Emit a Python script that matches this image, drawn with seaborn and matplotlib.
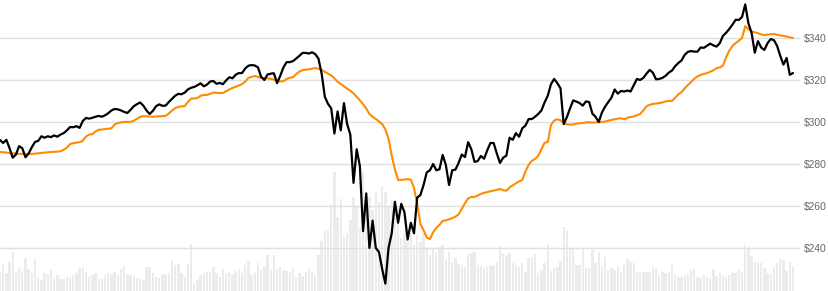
import numpy as np
import pandas as pd
import matplotlib
matplotlib.use("Agg")
import matplotlib.pyplot as plt
import seaborn as sns
from matplotlib.ticker import FuncFormatter

price = [
    291.4, 290.0, 291.5, 287.5, 283.0, 284.5, 288.5, 287.5, 283.2, 285.0,
    288.0, 290.5, 291.0, 293.2, 292.5, 293.2, 292.8, 293.6, 293.0, 294.0,
    294.7, 296.0, 297.6, 297.5, 298.0, 297.2, 300.5, 301.9, 301.6, 302.0,
    302.5, 302.9, 302.5, 303.2, 304.2, 305.5, 306.2, 306.0, 305.5, 304.8,
    304.3, 305.8, 307.5, 308.5, 309.3, 307.8, 305.5, 303.8, 305.3, 307.5,
    308.4, 307.7, 307.8, 309.5, 311.0, 312.5, 313.4, 313.2, 314.0, 315.5,
    316.3, 316.7, 317.5, 318.4, 317.0, 317.8, 319.3, 319.5, 318.2, 318.6,
    318.0, 319.8, 321.3, 320.8, 322.5, 323.3, 323.3, 325.5, 326.8, 327.1,
    326.9, 326.0, 321.5, 320.0, 322.6, 323.0, 323.2, 318.5, 322.0, 326.0,
    328.5, 328.5, 329.0, 330.2, 331.5, 332.9, 332.9, 332.6, 333.2, 332.3,
    330.2, 323.0, 312.0, 308.6, 306.5, 294.5, 305.0, 296.0, 309.0, 299.0,
    294.0, 271.0, 287.0, 279.0, 248.0, 266.0, 240.0, 253.0, 240.0, 238.0,
    230.0, 223.0, 240.0, 247.0, 262.0, 252.0, 261.0, 257.0, 244.0, 252.0,
    247.0, 264.0, 265.2, 270.0, 276.0, 277.0, 280.0, 277.0, 277.5, 284.3,
    279.5, 270.0, 277.0, 277.3, 280.5, 284.5, 283.3, 290.4, 287.0, 281.0,
    281.4, 283.8, 282.5, 286.5, 290.0, 290.0, 285.0, 280.5, 283.0, 284.0,
    292.5, 291.5, 294.7, 293.0, 297.0, 298.3, 301.4, 301.4, 302.5, 303.8,
    305.5, 309.3, 312.5, 318.0, 320.5, 318.5, 316.0, 299.0, 302.3, 306.5,
    310.3, 309.7, 309.0, 307.8, 309.8, 309.5, 304.0, 302.5, 300.0, 304.5,
    307.3, 309.5, 311.6, 315.5, 313.5, 314.8, 314.5, 315.0, 314.5, 317.5,
    320.5, 320.0, 321.0, 323.0, 324.8, 323.5, 320.3, 320.5, 321.0, 322.0,
    323.5, 324.5, 326.6, 328.1, 329.3, 332.0, 333.4, 333.8, 333.5, 333.5,
    335.5, 335.3, 336.3, 337.3, 336.5, 335.9, 337.5, 341.0, 342.5, 344.3,
    346.4, 348.7, 348.6, 350.0, 356.0, 347.0, 342.5, 333.0, 338.5, 335.5,
    334.3, 337.5, 339.5, 339.0, 336.3, 331.5, 327.3, 330.5, 322.5, 323.3,
]

moving_avg = [
    285.7, 285.6, 285.4, 285.2, 285.1, 285.0, 284.8, 284.8, 284.8, 284.8,
    284.8, 284.9, 285.1, 285.3, 285.4, 285.6, 285.7, 285.8, 285.9, 286.0,
    286.8, 287.8, 289.5, 289.9, 290.2, 290.4, 291.0, 293.1, 294.0, 294.2,
    295.5, 296.3, 296.4, 296.6, 296.8, 297.0, 298.8, 299.5, 299.8, 300.0,
    300.0, 300.1, 300.6, 301.5, 302.4, 302.8, 302.7, 302.6, 302.5, 302.6,
    302.7, 302.8, 302.9, 304.0, 305.4, 306.6, 307.2, 307.4, 307.6, 309.5,
    311.1, 311.2, 311.4, 312.5, 312.9, 312.9, 313.4, 314.0, 313.9, 313.8,
    313.8, 314.7, 315.5, 316.2, 316.8, 317.4, 318.0, 319.2, 321.0, 321.5,
    321.9, 321.5, 321.0, 320.9, 320.8, 320.5, 320.2, 319.5, 319.4, 319.4,
    320.5, 321.1, 321.3, 322.8, 324.0, 324.7, 324.9, 325.1, 325.4, 325.7,
    325.4, 324.8, 323.9, 323.0, 322.2, 320.8, 319.2, 318.1, 317.0, 315.9,
    314.9, 313.6, 312.0, 310.3, 308.5, 306.4, 303.8, 302.5, 301.4, 300.3,
    299.0, 296.5, 292.0, 284.0, 277.5, 272.4, 272.4, 272.6, 272.8, 272.5,
    268.6, 261.0, 251.5, 248.4, 245.0, 244.2, 247.5, 249.5, 251.0, 252.9,
    253.2, 253.6, 254.2, 254.9, 256.0, 258.7, 261.3, 263.6, 264.3, 264.3,
    265.0, 265.7, 266.3, 266.6, 267.0, 267.3, 267.7, 268.1, 267.5, 267.3,
    268.8, 269.8, 270.8, 271.7, 272.4, 276.5, 279.6, 281.5, 282.4, 283.9,
    287.0, 290.1, 290.5, 298.6, 300.7, 301.3, 300.8, 299.5, 298.9, 298.7,
    298.8, 299.2, 299.4, 299.5, 299.8, 299.9, 299.7, 299.8, 299.9, 300.0,
    300.2, 300.6, 301.0, 301.3, 301.6, 301.8, 301.2, 302.0, 302.4, 302.6,
    303.2, 303.8, 305.5, 307.5, 308.2, 308.6, 308.8, 309.0, 309.3, 309.8,
    310.0, 310.0, 311.5, 313.2, 314.2, 316.0, 317.6, 319.0, 320.6, 321.7,
    322.4, 322.9, 323.3, 323.9, 324.6, 325.6, 326.0, 326.8, 330.8, 334.0,
    336.2, 337.6, 338.7, 340.0, 345.6, 344.3, 343.1, 342.7, 342.3, 341.7,
    341.4, 341.6, 341.8, 341.9, 341.6, 341.2, 341.0, 340.7, 340.3, 340.0,
]

volume_m = [
    1.9, 2.7, 1.8, 2.9, 3.9, 1.8, 2.3, 2.0, 3.3, 2.2,
    1.8, 3.2, 1.4, 1.1, 1.8, 1.7, 2.1, 1.3, 1.6, 1.2,
    1.2, 1.5, 1.4, 1.6, 1.8, 2.3, 2.3, 1.9, 1.4, 1.6,
    1.8, 1.2, 1.2, 1.6, 1.8, 1.7, 1.9, 1.6, 2.2, 2.5,
    1.7, 1.6, 1.5, 1.3, 1.3, 1.1, 2.4, 2.4, 1.8, 1.4,
    1.3, 1.6, 1.7, 1.8, 3.1, 2.6, 2.7, 1.8, 1.4, 2.7,
    4.7, 0.8, 1.1, 1.6, 1.8, 1.9, 1.9, 2.4, 1.8, 1.4,
    2.2, 1.8, 1.9, 1.7, 2.0, 2.2, 1.8, 2.6, 3.0, 1.6,
    1.8, 2.8, 2.1, 2.4, 3.6, 2.1, 3.6, 2.2, 2.4, 2.1,
    2.0, 1.9, 2.3, 1.4, 1.8, 1.5, 1.9, 2.2, 1.9, 1.6,
    3.6, 5.0, 6.1, 6.1, 8.7, 11.9, 7.4, 9.2, 5.4, 5.8,
    7.1, 9.4, 8.4, 6.4, 11.9, 9.4, 9.4, 8.1, 9.9, 8.9,
    10.5, 9.9, 8.4, 9.1, 7.8, 8.4, 5.3, 5.8, 4.9, 5.8,
    4.6, 5.6, 4.9, 5.8, 4.4, 3.6, 4.3, 3.8, 4.4, 4.6,
    3.1, 3.9, 2.9, 3.3, 2.7, 2.6, 2.4, 3.7, 3.8, 3.9,
    2.6, 2.5, 2.3, 2.4, 2.5, 2.6, 2.9, 4.5, 3.8, 3.6,
    3.8, 2.8, 2.6, 2.4, 2.8, 1.9, 3.3, 3.3, 3.7, 1.8,
    2.1, 2.8, 4.7, 2.0, 2.3, 2.4, 3.0, 6.4, 6.0, 4.3,
    4.3, 2.6, 2.6, 4.3, 2.4, 2.3, 4.1, 2.8, 3.9, 2.5,
    3.4, 2.1, 2.3, 2.1, 2.5, 1.9, 2.6, 3.2, 2.9, 2.8,
    1.9, 1.8, 1.9, 1.9, 1.9, 2.4, 2.3, 1.6, 1.9, 1.8,
    1.9, 2.7, 1.7, 1.4, 1.4, 1.6, 1.7, 2.1, 2.3, 1.4,
    1.3, 1.6, 1.4, 1.3, 2.2, 1.5, 1.8, 1.5, 1.4, 1.6,
    1.8, 1.8, 2.1, 1.9, 4.6, 4.4, 3.5, 2.9, 2.9, 2.8,
    2.3, 1.8, 1.7, 2.4, 2.8, 3.3, 3.1, 2.0, 2.9, 2.4,
]

price_ticks = [240, 260, 280, 300, 320, 340]

day = np.arange(len(price))
df = pd.DataFrame({"day": day, "price": price, "ma": moving_avg, "volume": volume_m})

sns.set_theme(style="white")
plt.rcParams["font.family"] = ["Liberation Sans", "DejaVu Sans"]

fig = plt.figure(figsize=(8.29, 2.91), dpi=100)
ax_vol = fig.add_axes([0.0, 0.0, 800 / 829, 1.0])
sns.barplot(data=df, x="day", y="volume", native_scale=True, color="#ececec",
            saturation=1, width=0.75, errorbar=None, ax=ax_vol, linewidth=0)
ax_vol.set_ylim(0, 29.1)
ax_vol.set_xlim(0, 251.2)
ax_vol.set_axis_off()

ax = ax_vol.twinx()
ax.set_ylim(219.5, 358.1)
ax.set_xlim(0, 251.2)
ax.set_yticks(price_ticks)
ax.yaxis.set_major_formatter(FuncFormatter(lambda v, p: f"${v:.0f}"))
ax.tick_params(axis="y", length=0, pad=3, labelsize=7.4, labelcolor="#666666")
ax.grid(axis="y", color="#e0e0e0", linewidth=1.0)
ax.set_axisbelow(True)
for s in ax.spines.values():
    s.set_visible(False)

sns.lineplot(data=df, x="day", y="ma", color="#ff8c00", linewidth=1.5, ax=ax)
sns.lineplot(data=df, x="day", y="price", color="#000000", linewidth=1.6, ax=ax)
ax.set_xlim(0, 251.2)
ax.set_xlabel("")
ax.set_ylabel("")
ax.set_xticks([])

fig.savefig("out.png", dpi=100)
